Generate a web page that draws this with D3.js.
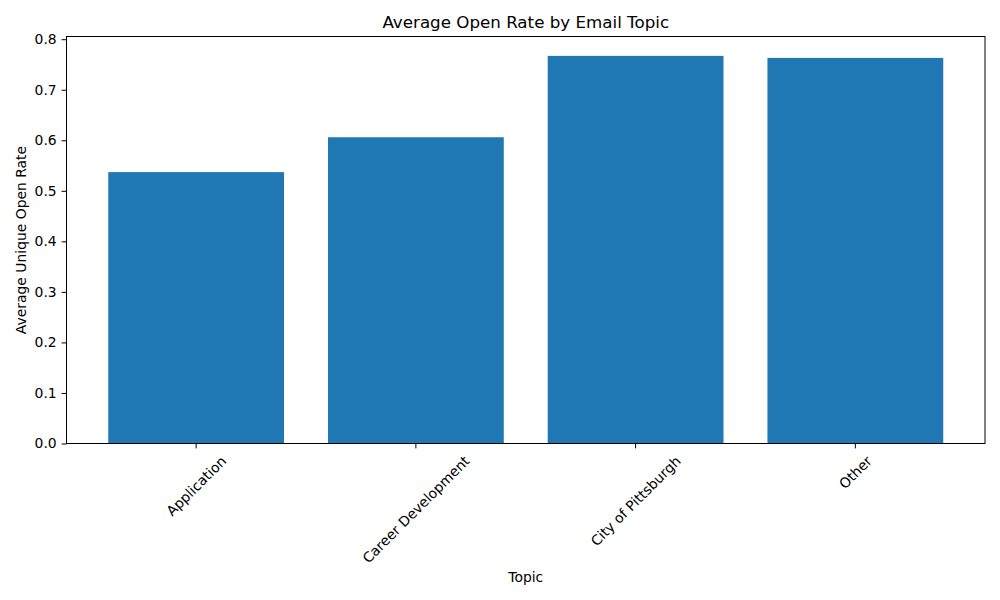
<!DOCTYPE html>
<html>
<head>
<meta charset="utf-8">
<script src="https://cdn.jsdelivr.net/npm/d3@7"></script>
<style>
  body { margin: 0; background: #fff; }
  text { font-family: "DejaVu Sans", sans-serif; fill: #000; }
</style>
</head>
<body>
<div id="chart"></div>
<script>
const topics = ["Application", "Career Development", "City of Pittsburgh", "Other"]
const openRates = [0.537, 0.606, 0.767, 0.763]
const yTicks = [0.0, 0.1, 0.2, 0.3, 0.4, 0.5, 0.6, 0.7, 0.8]

const width = 1000
const height = 600
const plotLeft = 66.5, plotRight = 985, plotTop = 36.5, plotBottom = 443.5
const fontSize = 13.9

const svg = d3.select("#chart")
  .append("svg")
  .attr("width", width)
  .attr("height", height)

const x = d3.scaleBand()
  .domain(topics)
  .range([plotLeft, plotRight])
  .paddingInner(0.2)
  .paddingOuter(0.19)

const y = d3.scaleLinear()
  .domain([0, d3.max(openRates) * 1.05])
  .range([plotBottom, plotTop])

// bars
svg.selectAll("rect.bar")
  .data(topics).enter()
  .append("rect")
  .attr("class", "bar")
  .attr("x", d => x(d))
  .attr("width", x.bandwidth())
  .attr("y", (d, i) => y(openRates[i]))
  .attr("height", (d, i) => plotBottom - y(openRates[i]))
  .attr("fill", "#1f77b4")

// y axis
const yAxis = svg.append("g")
  .attr("transform", `translate(${plotLeft},0)`)
  .call(d3.axisLeft(y).tickValues(yTicks).tickFormat(d3.format(".1f")).tickSizeOuter(0).tickSize(4.9).tickPadding(4.9))
yAxis.select(".domain").remove()
yAxis.selectAll("text").style("font-size", fontSize + "px").style("font-family", "DejaVu Sans")

// x axis
const xAxis = svg.append("g")
  .attr("transform", `translate(0,${plotBottom})`)
  .call(d3.axisBottom(x).tickSize(4.9).tickSizeOuter(0))
xAxis.select(".domain").remove()
xAxis.selectAll("text").remove()

// rotated tick labels, centred under each tick like matplotlib rotation=45
const labelGap = 10
xAxis.selectAll(".tick").each(function (d) {
  const g = d3.select(this)
  const t = g.append("text")
    .attr("text-anchor", "middle")
    .attr("dominant-baseline", "central")
    .style("font-size", fontSize + "px")
    .style("font-family", "DejaVu Sans")
    .style("fill", "#000")
    .text(d)
  const w = t.node().getComputedTextLength()
  const h = fontSize
  const half = (w + h) / (2 * Math.SQRT2)
  t.attr("transform", `translate(0,${labelGap + half}) rotate(-45)`)
})

// frame
svg.append("rect")
  .attr("x", plotLeft)
  .attr("y", plotTop)
  .attr("width", plotRight - plotLeft)
  .attr("height", plotBottom - plotTop)
  .attr("fill", "none")
  .attr("stroke", "#000")
  .attr("stroke-width", 1)

// title and axis labels
svg.append("text")
  .attr("x", (plotLeft + plotRight) / 2)
  .attr("y", 22)
  .attr("text-anchor", "middle")
  .attr("dominant-baseline", "central")
  .style("font-size", "16.7px")
  .text("Average Open Rate by Email Topic")

svg.append("text")
  .attr("x", (plotLeft + plotRight) / 2)
  .attr("y", 577)
  .attr("text-anchor", "middle")
  .attr("dominant-baseline", "central")
  .style("font-size", fontSize + "px")
  .text("Topic")

svg.append("text")
  .attr("transform", `translate(21,${(plotTop + plotBottom) / 2}) rotate(-90)`)
  .attr("text-anchor", "middle")
  .attr("dominant-baseline", "central")
  .style("font-size", fontSize + "px")
  .text("Average Unique Open Rate")
</script>
</body>
</html>
